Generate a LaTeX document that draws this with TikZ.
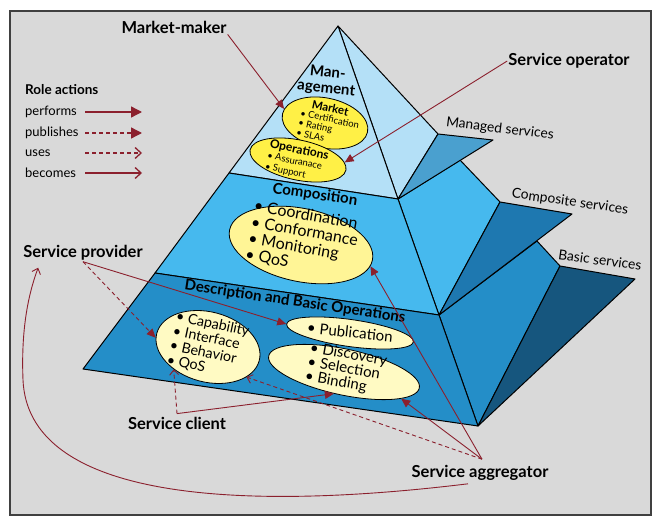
\documentclass[tikz,border=0pt]{standalone}
\usepackage{fontspec}
\setmainfont{Lato}
\usetikzlibrary{arrows.meta,shapes.geometric,calc}
\definecolor{bg}{RGB}{217,217,217}
\definecolor{framec}{RGB}{64,64,64}
\definecolor{lb}{RGB}{180,224,247}
\definecolor{mb}{RGB}{70,185,238}
\definecolor{db}{RGB}{36,142,200}
\definecolor{fa}{RGB}{74,160,207}
\definecolor{fb}{RGB}{30,120,176}
\definecolor{fc}{RGB}{22,86,126}
\definecolor{yel}{RGB}{255,240,70}
\definecolor{pyel}{RGB}{255,245,150}
\definecolor{ppyel}{RGB}{255,250,195}
\definecolor{ar}{RGB}{139,32,45}
\begin{document}
\begin{tikzpicture}[x=1pt,y=-1pt,
  face/.style={draw=black,line width=1pt,line join=round},
  ell/.style={ellipse,draw=black,line width=0.8pt,inner sep=0pt},
  lab/.style={font=\fontsize{16.5}{18}\selectfont\bfseries,inner sep=1pt},
  svc/.style={font=\fontsize{13.8}{15}\selectfont,inner sep=1pt},
  ttl/.style={font=\fontsize{15}{15.5}\selectfont\bfseries,inner sep=1pt},
  leg/.style={font=\fontsize{13}{14}\selectfont,anchor=west,inner sep=0pt},
  perf/.style={draw=ar,line width=0.9pt,-{Triangle[length=9pt,width=8pt]}},
  pubs/.style={perf,dash pattern=on 4pt off 3pt},
  uses/.style={draw=ar,line width=0.9pt,dash pattern=on 4pt off 3pt,-{Straight Barb[length=5pt,width=9pt]}},
  becomes/.style={draw=ar,line width=0.9pt,-{Straight Barb[length=5pt,width=9pt]}},
  legl/.style={line width=1.3pt}
]
\useasboundingbox (0,0) rectangle (659,524);
\fill[white] (0,0) rectangle (659,524);
\draw[framec,line width=1.5pt,fill=bg] (10,11) rectangle (651,515);

% right faces and flaps
\path[face,fill=lb] (338,26) -- (438,134) -- (398,199) -- cycle;
\path[face,fill=mb] (398,199) -- (460,160) -- (500,202) -- (439,315) -- cycle;
\path[face,fill=fa] (438,134) -- (493,140) -- (398,199) -- cycle;
\path[face,fill=db] (439,315) -- (537,241) -- (560,266) -- (478,426) -- cycle;
\path[face,fill=fb] (500,202) -- (572,214) -- (439,315) -- cycle;
\path[face,fill=fc] (560,266) -- (635,279) -- (478,426) -- cycle;
% front faces
\path[face,fill=lb] (338,26) -- (229,173) -- (398,199) -- cycle;
\path[face,fill=mb] (229,173) -- (398,199) -- (439,315) -- (155,273) -- cycle;
\path[face,fill=db] (155,273) -- (439,315) -- (478,426) -- (83,369) -- cycle;

% ellipses
\node[ell,fill=yel,minimum width=87pt,minimum height=50pt,rotate=-12] (mkt) at (325,123) {};
\node[ell,fill=yel,minimum width=98pt,minimum height=40pt,rotate=-12] (ops) at (298,160) {};
\node[ell,fill=pyel,minimum width=146pt,minimum height=73pt,rotate=-12] (comp) at (301,245) {};
\node[ell,fill=ppyel,minimum width=106pt,minimum height=70pt,rotate=-15] (cap) at (208,347) {};
\node[ell,fill=ppyel,minimum width=128pt,minimum height=27pt,rotate=-8] (pub) at (350,333) {};
\node[ell,fill=ppyel,minimum width=154pt,minimum height=46pt,rotate=-12] (disc) at (344,372) {};

% ellipse texts
\node[align=left,rotate=-12,inner sep=0pt,font=\fontsize{9.5}{10}\selectfont] (tmkt) at (329,123)
  {\hspace*{1em}{\fontsize{11.5}{10}\selectfont\bfseries Market}\\• Certification\\• Rating\\• SLAs};
\node[align=left,rotate=-12,inner sep=0pt,font=\fontsize{9.5}{11.2}\selectfont] (tops) at (297,161)
  {{\fontsize{12}{11.2}\selectfont\bfseries Operations}\\• Assuranace\\• Support};
\node[align=left,rotate=-10,inner sep=0pt,font=\fontsize{16}{16.5}\selectfont] (tcomp) at (303,240)
  {• Coordination\\• Conformance\\• Monitoring\\• QoS};
\node[align=left,rotate=-12,inner sep=0pt,font=\fontsize{14.3}{14.8}\selectfont] (tcap) at (208,346)
  {• Capability\\• Interface\\• Behavior\\• QoS};
\node[inner sep=0pt,rotate=-6,font=\fontsize{15}{15}\selectfont] (tpub) at (350,332) {• Publication};
\node[align=left,rotate=-10,inner sep=0pt,font=\fontsize{15}{14.5}\selectfont] (tdisc) at (346,369)
  {• Discovery\\• Selection\\• Binding};

% layer titles
\node[ttl,rotate=-6,align=center] (tman) at (327,81) {Man-\\agement};
\node[ttl,rotate=-8] (tcmp) at (315,195) {Composition};
\node[ttl,rotate=-8.5] (tdsc) at (295,302) {Description and Basic Operations};

% side labels
\node[svc,rotate=-7] (lman) at (500,129) {Managed services};
\node[svc,rotate=-8] (lcmp) at (570,202) {Composite services};
\node[svc,rotate=-8] (lbas) at (600,260) {Basic services};

% role labels
\node[lab] (mm) at (174,27) {Market-maker};
\node[lab] (so) at (569,61) {Service operator};
\node[lab] (prov) at (83,253) {Service provider};
\node[lab] (cli) at (177,423) {Service client};
\node[lab] (agg) at (480,473) {Service aggregator};

% legend
\node[leg,font=\fontsize{13.5}{14}\selectfont\bfseries] (lra) at (25,90) {Role actions};
\node[leg] (lp) at (25,112) {performs};
\node[leg] (lpb) at (25,133) {publishes};
\node[leg] (lu) at (25,153) {uses};
\node[leg] (lb) at (25,173) {becomes};
\draw[legl,draw=ar,-{Triangle[length=11pt,width=11pt]}] (85,112) -- (142,112);
\draw[legl,draw=ar,dash pattern=on 4pt off 3pt,-{Triangle[length=11pt,width=11pt]}] (85,133) -- (142,133);
\draw[legl,draw=ar,dash pattern=on 4pt off 3pt,-{Straight Barb[length=6pt,width=11pt]}] (85,153) -- (142,153);
\draw[legl,draw=ar,-{Straight Barb[length=6pt,width=11pt]}] (85,173) -- (142,173);

% connectors
\draw[perf] (mm.south east) -- (mkt.173);
\draw[perf] (so.west) -- (ops.9);
\draw[perf] (prov.south) -- (pub.west);
\draw[pubs] (prov.south) -- (cap.185);
\coordinate (cc) at ($(cli.north)+(0,-2)$);
\draw[uses] (cc) -- (cap.228);
\draw[perf] (cc) -- (disc.257);
\coordinate (ag) at ($(agg.north)+(2,-5)$);
\draw[perf] (ag) -- (comp.-5);
\draw[perf] (ag) -- (disc.-13);
\draw[uses] (ag) -- (cap.-23);
\draw[becomes] ($(agg.south)+(-12,2)$) .. controls (220,514) and (28,494) .. (23,380)
  .. controls (21,330) and (28,295) .. ($(prov.south west)+(16,6)$);
\end{tikzpicture}
\end{document}
